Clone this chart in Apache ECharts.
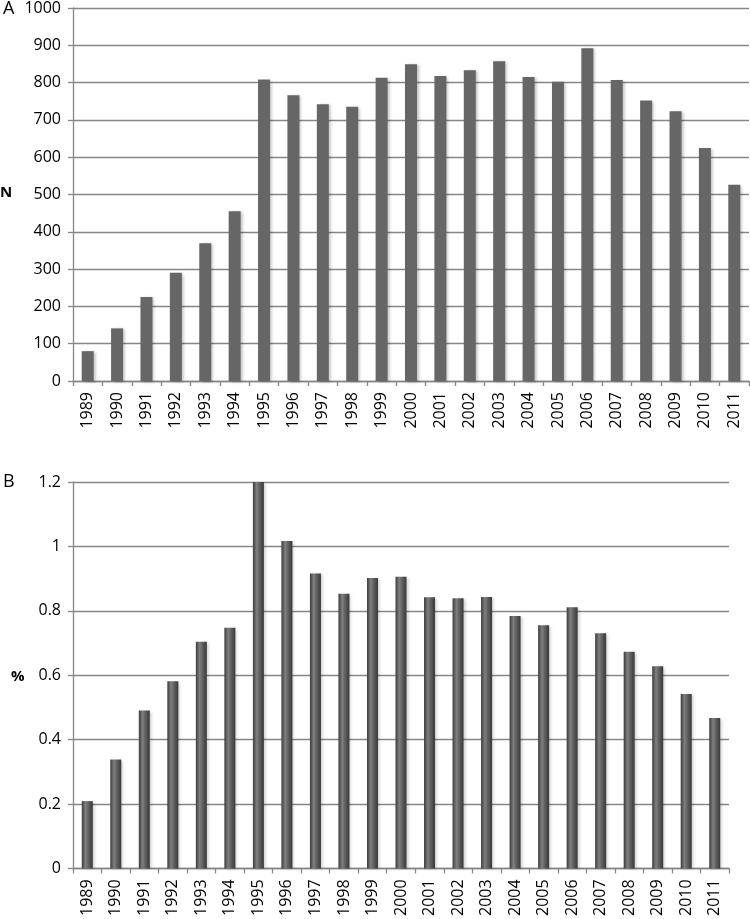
<!DOCTYPE html>
<html>
<head>
<meta charset="utf-8">
<script src="https://cdn.jsdelivr.net/npm/echarts@6/dist/echarts.min.js"></script>
<style>
html,body{margin:0;padding:0;background:#fff;}
#chart{width:750px;height:919px;}
</style>
</head>
<body>
<div id="chart"></div>
<script>
const years = ['1989','1990','1991','1992','1993','1994','1995','1996','1997','1998','1999','2000','2001','2002','2003','2004','2005','2006','2007','2008','2009','2010','2011'];
const countN = [80,141,225,290,369,455,808,766,742,735,813,849,818,833,857,815,802,892,807,752,723,625,526];
const percent = [0.209,0.338,0.49,0.581,0.704,0.747,1.2,1.017,0.916,0.853,0.902,0.906,0.842,0.839,0.843,0.784,0.755,0.811,0.730,0.673,0.628,0.542,0.467];

const FONT = 'Open Sans';
const AX = '#868686';

const chart = echarts.init(document.getElementById('chart'), null, {renderer:'canvas'});

function xAxis(gridIndex){
  return {
    type:'category', gridIndex, data: years, boundaryGap:true,
    axisLine:{show:true, lineStyle:{color:AX, width:1.3}},
    axisTick:{show:true, length:5, inside:false, lineStyle:{color:AX, width:1.3}},
    axisLabel:{rotate:90, margin:11, color:'#000', fontFamily:FONT, fontSize:16, interval:0},
    splitLine:{show:false}
  };
}
function yAxis(gridIndex, max, interval){
  return {
    type:'value', gridIndex, min:0, max, interval,
    axisLine:{show:true, lineStyle:{color:AX, width:1.3}},
    axisTick:{show:true, length:5, inside:false, lineStyle:{color:AX, width:1.3}},
    axisLabel:{margin:12, color:'#000', fontFamily:FONT, fontSize:16, formatter:(v)=>String(+v.toFixed(2))},
    splitLine:{show:true, lineStyle:{color:AX, width:1.3}}
  };
}

chart.setOption({
  animation:false,
  backgroundColor:'#fff',
  grid:[
    {left:73, top:7, width:676, height:374, containLabel:false},
    {left:73, top:482, width:656, height:389, containLabel:false}
  ],
  xAxis:[xAxis(0), xAxis(1)],
  yAxis:[yAxis(0, 1000, 100), yAxis(1, 1.2, 0.2)],
  graphic:[
    {type:'text', left:3, top:0, style:{text:'A', fontFamily:FONT, fontSize:18, fill:'#000'}},
    {type:'text', left:0, top:185, style:{text:'N', fontFamily:FONT, fontSize:15, fontWeight:'bold', fill:'#000'}},
    {type:'text', left:3, top:473, style:{text:'B', fontFamily:FONT, fontSize:18, fill:'#000'}},
    {type:'text', left:11, top:669, style:{text:'%', fontFamily:FONT, fontSize:15, fontWeight:'bold', fill:'#000'}}
  ],
  series:[
    {
      type:'bar', xAxisIndex:0, yAxisIndex:0, data:countN, barWidth:12,
      itemStyle:{color:'#666666', shadowColor:'rgba(0,0,0,0.25)', shadowBlur:3, shadowOffsetX:2, shadowOffsetY:1}
    },
    {
      type:'bar', xAxisIndex:1, yAxisIndex:1, data:percent, barWidth:11,
      itemStyle:{
        color:new echarts.graphic.LinearGradient(0,0,1,0,[
          {offset:0, color:'#3c3c3c'},
          {offset:0.35, color:'#808080'},
          {offset:0.55, color:'#666666'},
          {offset:1, color:'#383838'}
        ]),
        shadowColor:'rgba(0,0,0,0.2)', shadowBlur:3, shadowOffsetX:2, shadowOffsetY:1
      }
    }
  ]
});
</script>
</body>
</html>
